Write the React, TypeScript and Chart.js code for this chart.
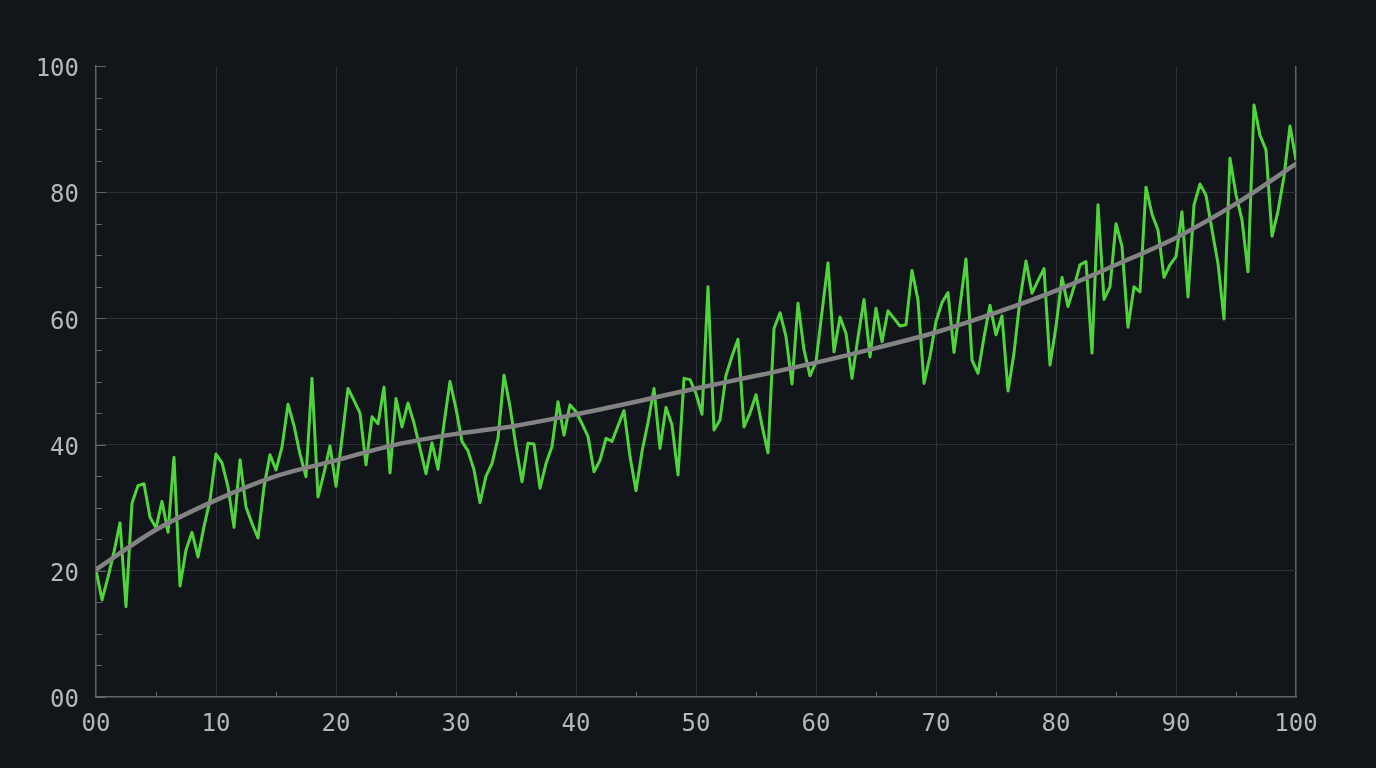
import React, { useEffect, useRef } from "react";
import { Chart, registerables } from "chart.js";

Chart.register(...registerables);

// x positions of the noisy series: every half unit from 0 to 100
const noiseStep = 0.5;
const noiseValues = [
  20.1, 15.4, 19, 23, 27.6, 14.3, 30.7, 33.5, 33.8, 28.5,
  26.8, 31, 26.1, 38, 17.6, 23.3, 26.1, 22.2, 27, 31.2,
  38.5, 37.1, 33.3, 26.9, 37.6, 30.1, 27.5, 25.2, 33.3, 38.4,
  36, 39.6, 46.4, 43, 38.5, 34.9, 50.5, 31.7, 35.5, 39.8,
  33.4, 41, 48.9, 47, 45, 36.8, 44.4, 43.3, 49.1, 35.5,
  47.3, 42.8, 46.6, 43.4, 39.4, 35.4, 40.3, 36.1, 43.3, 50,
  45.7, 40.5, 39, 36, 30.8, 35, 37, 41, 51, 46,
  39.7, 34.1, 40.2, 40.1, 33.1, 37, 39.7, 46.8, 41.5, 46.3,
  45.2, 43.3, 41.3, 35.7, 37.5, 41, 40.5, 43, 45.4, 38.1,
  32.7, 38.9, 43.5, 48.9, 39.4, 45.9, 43.1, 35.2, 50.5, 50.3,
  48.1, 44.8, 65, 42.3, 43.9, 51, 54, 56.7, 42.8, 45,
  47.9, 43, 38.7, 58.4, 60.9, 57.1, 49.6, 62.4, 55, 50.9,
  53.1, 61, 68.8, 54.7, 60.2, 57.6, 50.5, 57, 63, 53.9,
  61.6, 56.3, 61.2, 60, 58.8, 59, 67.6, 62.9, 49.7, 54,
  59.5, 62.5, 64.1, 54.6, 62, 69.4, 53.4, 51.3, 57, 62.1,
  57.4, 60.4, 48.5, 54.5, 63, 69.1, 64, 66, 67.9, 52.6,
  58.7, 66.5, 61.9, 65, 68.5, 69, 54.5, 78, 63, 65,
  75, 71.4, 58.6, 65, 64.2, 80.8, 76.5, 74, 66.5, 68.5,
  69.8, 76.9, 63.4, 78, 81.3, 79.5, 74, 68.7, 59.9, 85.4,
  79.6, 75.6, 67.4, 93.8, 89, 86.7, 73, 77, 82.5, 90.5,
  85.1,
];

const trendX = [0, 5, 10, 15, 20, 25, 30, 35, 40, 45, 50, 55, 60, 65, 70, 75, 80, 85, 90, 95, 100];
const trendValues = [20.2, 26.5, 31.2, 35, 37.5, 40, 41.7, 43, 44.8, 46.8, 48.9, 50.9, 53, 55.3, 57.8, 60.9, 64.4, 68.5, 72.8, 78.2, 84.5];

const xMajorTicks = [0, 10, 20, 30, 40, 50, 60, 70, 80, 90, 100];
const yMajorTicks = [0, 20, 40, 60, 80, 100];

const BG = "#12161a";
const GRID = "#2c3237";
const AXIS = "#5f656b";
const LABEL = "#b4b8bc";
const FONT = "'DejaVu Sans Mono', monospace";

const fmt = (v: number) => String(v).padStart(2, "0");

const innerTicks = {
  id: "innerTicks",
  afterDatasetsDraw(chart: any) {
    const { ctx, chartArea, scales } = chart;
    const xs = scales.x;
    const ys = scales.y;
    ctx.save();
    ctx.strokeStyle = AXIS;
    ctx.lineWidth = 1;
    for (let v = 0; v <= 100; v += 5) {
      const major = yMajorTicks.includes(v);
      const py = Math.round(ys.getPixelForValue(v)) + 0.5;
      ctx.beginPath();
      ctx.moveTo(chartArea.left, py);
      ctx.lineTo(chartArea.left + (major ? 10 : 6), py);
      ctx.stroke();
      if (!xMajorTicks.includes(v)) {
        const px = Math.round(xs.getPixelForValue(v)) + 0.5;
        ctx.beginPath();
        ctx.moveTo(px, chartArea.bottom);
        ctx.lineTo(px, chartArea.bottom - 5);
        ctx.stroke();
      }
    }
    ctx.restore();
  },
};

export default function App() {
  const ref = useRef<HTMLCanvasElement | null>(null);

  useEffect(() => {
    document.body.style.margin = "0";
    document.body.style.background = BG;
    const canvas = ref.current;
    if (!canvas) return;
    const noiseData = noiseValues.map((y, i) => ({ x: i * noiseStep, y }));
    const trendData = trendValues.map((y, i) => ({ x: trendX[i], y }));
    const chart = new Chart(canvas, {
      type: "line",
      data: {
        datasets: [
          {
            data: noiseData,
            borderColor: "#4fd43c",
            borderWidth: 3,
            pointRadius: 0,
            tension: 0,
            borderJoinStyle: "round",
            order: 2,
          },
          {
            data: trendData,
            borderColor: "#838383",
            borderWidth: 4.5,
            pointRadius: 0,
            cubicInterpolationMode: "monotone",
            borderCapStyle: "round",
            order: 1,
          },
        ],
      },
      options: {
        animation: false,
        responsive: false,
        maintainAspectRatio: false,
        layout: { padding: { top: 66, right: 80, left: 0, bottom: 0 } },
        plugins: { legend: { display: false }, tooltip: { enabled: false } },
        scales: {
          x: {
            type: "linear",
            min: 0,
            max: 100,
            afterFit: (s: any) => {
              s.height = 71;
            },
            ticks: {
              stepSize: 5,
              autoSkip: false,
              maxRotation: 0,
              padding: 13,
              color: LABEL,
              font: { family: FONT, size: 24 },
              callback: (v: any) => (xMajorTicks.includes(Number(v)) ? fmt(Number(v)) : ""),
            },
            grid: {
              drawTicks: false,
              color: (c: any) => {
                const v = c.tick?.value;
                if (v === 100) return AXIS;
                return xMajorTicks.includes(v) && v !== 0 ? GRID : "rgba(0,0,0,0)";
              },
              lineWidth: (c: any) => (c.tick?.value === 100 ? 1.5 : 1),
            },
            border: { display: true, color: AXIS, width: 1.5 },
          },
          y: {
            type: "linear",
            min: 0,
            max: 100,
            afterFit: (s: any) => {
              s.width = 96;
            },
            ticks: {
              stepSize: 5,
              autoSkip: false,
              padding: 17,
              labelOffset: 4,
              color: LABEL,
              font: { family: FONT, size: 24 },
              callback: (v: any) => (yMajorTicks.includes(Number(v)) ? fmt(Number(v)) : ""),
            },
            grid: {
              drawTicks: false,
              color: (c: any) => {
                const v = c.tick?.value;
                return yMajorTicks.includes(v) && v !== 0 && v !== 100 ? GRID : "rgba(0,0,0,0)";
              },
              lineWidth: 1,
            },
            border: { display: true, color: AXIS, width: 1.5 },
          },
        },
      },
      plugins: [innerTicks],
    } as any);
    return () => chart.destroy();
  }, []);

  return (
    <div style={{ position: "fixed", left: 0, top: 0, width: 1376, height: 768, background: BG }}>
      <canvas ref={ref} width={1376} height={768} />
    </div>
  );
}
